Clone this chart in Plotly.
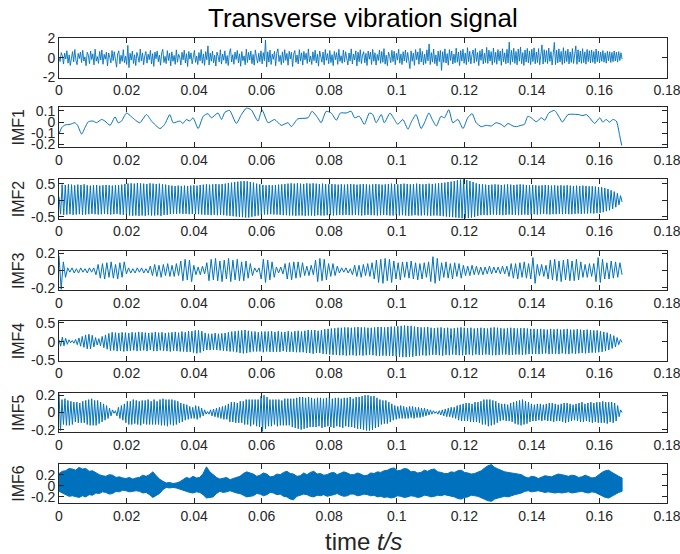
import numpy as np
import plotly.graph_objects as go

# ---------------- data ----------------
T_END = 0.1667  # last sample time (s)

x_tickvals = [0, 0.02, 0.04, 0.06, 0.08, 0.1, 0.12, 0.14, 0.16, 0.18]
x_ticktext = ["0", "0.02", "0.04", "0.06", "0.08", "0.1", "0.12", "0.14", "0.16", "0.18"]

panel_names = ["", "IMF1", "IMF2", "IMF3", "IMF4", "IMF5", "IMF6"]
y_ticks = [[-2, 0, 2], [-0.2, -0.1, 0, 0.1], [-0.5, 0, 0.5], [-0.2, 0, 0.2],
           [-0.5, 0, 0.5], [-0.2, 0, 0.2], [-0.2, 0, 0.2]]
y_ticktext = [["-2", "0", "2"], ["-0.2", "-0.1", "0", "0.1"], ["-0.5", "0", "0.5"],
              ["-0.2", "0", "0.2"], ["-0.5", "0", "0.5"], ["-0.2", "0", "0.2"],
              ["-0.2", "0", "0.2"]]
y_ranges = [[-2, 2], [-0.221, 0.132], [-0.55, 0.64], [-0.23, 0.23],
            [-0.5, 0.55], [-0.23, 0.23], [-0.31, 0.40]]

raw_signal = [
    0.05, -0.38, 0.52, 0.21, -0.64, 0.47, -0.12, 0.71, -0.55, 0.30, -0.78, 0.15, 0.62, -0.41, 0.83, -0.26, -0.70, 0.44, -0.08, 0.58,
    -0.49, 0.76, -0.33, 0.09, -0.81, 0.55, 0.27, -0.60, 0.69, -0.18, 0.40, -0.72, 0.86, -0.35, 0.12, -0.57, 0.64, -0.22, 0.79, -0.66,
    0.34, -0.15, 0.57, -0.83, 0.48, 0.03, -0.52, 0.73, -0.29, 0.61, -0.44, -0.95, 0.38, 0.70, -0.61, 0.25, -0.37, 0.82, -0.50, 0.16,
    -0.68, 1.25, -1.00, 0.45, -0.24, 0.67, -0.58, 0.31, -0.79, 0.54, 0.11, -0.46, 0.88, -0.32, 0.49, -0.71, 0.20, 0.63, -0.55, 0.36,
    -0.19, 0.74, -0.63, 0.42, -0.87, 0.58, -0.10, 0.69, -0.40, 0.27, -0.76, 0.51, 0.85, -0.48, 0.14, -0.59, 0.72, -0.28, 0.46, -0.82,
    0.60, -0.36, 0.23, -0.67, 0.80, -0.45, 0.35, 0.07, -0.73, 0.56, -0.21, 0.77, -0.53, 0.41, -0.88, 0.64, -0.14, 0.50, -0.62, 0.29,
    0.75, -0.47, 0.18, -0.69, 0.53, -0.31, 0.84, -0.56, 0.39, -0.77, 0.62, -0.20, 1.20, -0.74, 0.47, -0.35, 0.66, -0.51, 0.26, -0.84,
    0.57, 0.13, -0.42, 0.81, -0.64, 0.37, -0.25, 0.70, -0.58, 0.22, -0.79, 0.49, 0.92, -0.43, 0.31, -0.66, 0.58, -0.17, 0.74, -0.52,
    0.40, -0.86, 0.63, -0.30, 0.19, -0.71, 0.87, -0.48, 0.55, -0.23, 0.68, -0.60, 0.33, -0.75, 0.79, 0.06, -0.54, 0.45, -0.38, 0.71,
    -0.62, 0.52, -0.29, 1.80, -0.92, 0.60, -0.44, 0.77, -0.68, 0.36, -0.16, 0.65, -0.81, 0.48, 0.90, -0.39, 0.24, -0.70, 0.59, -0.50,
    0.82, -0.27, 0.43, -0.76, 0.66, -0.12, 0.55, -0.89, 0.38, 0.72, -0.47, 0.28, -0.63, 0.81, -0.34, 0.50, -0.74, 0.64, -0.21, 0.46,
    -0.58, 0.89, -0.41, 0.17, -0.68, 0.60, -0.30, 0.76, -0.53, 0.35, -0.85, 0.69, 0.10, -0.45, 0.57, -0.72, 0.83, -0.26, 0.42, -0.61,
    0.73, -0.49, 0.31, -0.80, 0.64, -0.19, 0.52, -0.67, 0.86, -0.37, 0.21, -0.56, 0.78, -0.44, 0.61, 0.05, -0.73, 0.48, -0.32, 0.90,
    -0.64, 0.39, -0.22, 0.70, -0.83, 0.56, -0.40, 0.81, -0.59, 0.27, 0.62, -0.51, 0.44, -0.78, 0.68, -0.15, 0.57, -0.69, 0.85, -0.36,
    0.50, -0.74, 0.33, -0.28, 0.79, -0.57, 0.63, -0.46, 0.92, -0.65, 0.26, -0.80, 0.58, 0.14, -0.50, 0.75, -0.39, 0.66, -0.71, 0.45,
    -0.24, 0.87, -0.55, 0.38, -0.69, 0.61, -0.33, 0.78, -0.48, 0.54, -0.62, -1.10, 0.70, -0.35, 0.47, -0.77, 0.83, -0.20, 0.59, -0.66,
    0.95, -0.42, 0.64, -0.73, 0.36, -0.58, 0.80, -0.31, 1.40, -0.69, 0.52, -0.44, 0.88, -0.60, 0.29, -0.82, 0.67, -0.38, 0.74, -1.28,
    0.61, -0.47, 0.90, -0.53, 0.42, -0.75, 0.83, -0.28, 0.69, -0.64, 0.37, -0.51, 0.97, -0.45, 0.58, -0.79, 0.72, -0.33, 0.86, -0.56,
    0.48, -0.70, 1.02, -0.40, 0.65, -0.62, 0.31, 0.79, -0.55, 0.94, -0.37, 0.53, -0.80, 0.71, -0.26, 0.88, -0.63, 0.45, -0.49, 1.05,
    -0.58, 0.77, -0.34, 0.62, -0.71, 0.99, -0.47, 0.56, -0.66, 0.83, -0.30, 0.68, -0.77, 0.91, -0.42, 0.50, -0.61, 0.85, -0.52, 1.58,
    -0.69, 0.74, -0.40, 0.96, -0.57, 0.63, -0.72, 0.88, -0.35, 1.08, -0.60, 0.52, -0.78, 0.79, -0.44, 0.95, -0.53, 0.67, -0.70, 0.86,
    -0.38, 1.00, -0.62, 0.58, -0.49, 0.93, -0.71, 0.66, 1.30, -0.64, 0.81, -0.45, 0.72, -0.59, 0.98, -0.36, 0.61, -0.74, 0.85, 1.55,
    -0.70, 0.76, -0.51, 0.90, -0.42, 0.64, -0.68, 1.02, -0.55, 0.70, -0.39, 0.87, -0.63, 0.59, -0.47, 0.93, -0.58, 0.74, 1.20, -0.66,
    0.81, -0.44, 0.68, -0.57, 0.92, -0.49, 0.60, -0.65, 0.84, -0.38, 0.71, -0.53, 0.79, -0.46, 0.63, -0.60, 0.88, -0.41, 0.67, -0.52,
    0.58, -0.36, 0.72, -0.45, 0.50, -0.55, 0.66, -0.30, 0.61, -0.48, 0.54, -0.40, 0.69, -0.33, 0.57, -0.44, 0.62, -0.28, 0.51, -0.15,
]

imf1_t = [
    0, 0.0008, 0.0018, 0.0033, 0.0047, 0.0055, 0.0067, 0.0077, 0.0087, 0.0101, 0.0111, 0.0126, 0.0136, 0.0151,
    0.0166, 0.0175, 0.0185, 0.0200, 0.0215, 0.0239, 0.0259, 0.0274, 0.0299, 0.0313, 0.0328, 0.0338, 0.0358,
    0.0367, 0.0377, 0.0387, 0.0397, 0.0412, 0.0427, 0.0441, 0.0451, 0.0471, 0.0481, 0.0491, 0.0505, 0.0525,
    0.0540, 0.0555, 0.0569, 0.0589, 0.0601, 0.0619, 0.0638, 0.0658, 0.0678, 0.0688, 0.0707, 0.0737, 0.0749,
    0.0766, 0.0776, 0.0791, 0.0806, 0.0821, 0.0833,
    0.0850, 0.0865, 0.0875, 0.0889, 0.0904, 0.0919, 0.0929, 0.0939, 0.0954, 0.0963, 0.0980, 0.0990, 0.1003,
    0.1018, 0.1033, 0.1042, 0.1057, 0.1072, 0.1082, 0.1095, 0.1105, 0.1117, 0.1131, 0.1141, 0.1154, 0.1166,
    0.1181, 0.1196, 0.1210, 0.1223, 0.1235, 0.1250, 0.1265, 0.1280, 0.1294, 0.1309, 0.1319, 0.1329, 0.1344,
    0.1354, 0.1368, 0.1378, 0.1388, 0.1398, 0.1413, 0.1428, 0.1438, 0.1450, 0.1467, 0.1482, 0.1490, 0.1507,
    0.1522, 0.1537, 0.1551, 0.1561, 0.1571, 0.1586, 0.1601, 0.1610, 0.1620, 0.1630, 0.1640, 0.1650, 0.1660, 0.1666,
]
imf1_v = [
    -0.107, -0.049, -0.026, -0.020, -0.006, -0.029, -0.107, -0.049, 0.003, 0.009, -0.006, 0.023, 0.009, -0.029,
    0.046, -0.006, 0.009, 0.081, 0.046, -0.006, 0.067, 0.009, -0.058, -0.020, 0.067, -0.006, 0.009,
    -0.012, 0.023, 0.009, 0.038, -0.058, 0.052, 0.075, 0.038, 0.081, 0.023, 0.087, 0.104, -0.012,
    0.067, 0.125, 0.110, 0.009, 0.110, -0.006, 0.023, -0.029, -0.006, -0.041, 0.029, 0.038, 0.096,
    0.038, -0.006, 0.096, 0.081, 0.017, 0.081,
    0.081, 0.096, 0.038, 0.052, -0.020, 0.081, 0.067, -0.006, 0.067, -0.006, 0.081, 0.038, -0.020,
    0.023, -0.064, -0.006, 0.067, -0.058, -0.006, 0.081, 0.023, -0.035, 0.052, 0.038, 0.110, -0.006,
    0.023, -0.058, 0.038, 0.075, -0.006, -0.041, -0.029, -0.035, -0.006, -0.020, -0.041, -0.012, -0.035,
    -0.041, -0.029, -0.020, 0.052, 0.038, 0.003, 0.038, 0.017, 0.081, 0.104, 0.038, 0.000, 0.067,
    0.070, 0.067, 0.058, 0.067, 0.038, -0.012, 0.038, 0.000, 0.023, 0.000, 0.023, 0.009, -0.122, -0.209,
]

imf2 = [
    0.10, -0.42, 0.47, -0.44, 0.46, -0.43, 0.48, -0.42, 0.47, -0.44, 0.45, -0.43, 0.47, -0.42, 0.46, -0.44, 0.48, -0.43, 0.45, -0.42,
    0.44, -0.41, 0.45, -0.42, 0.46, -0.43, 0.44, -0.42, 0.45, -0.41, 0.46, -0.42, 0.45, -0.43, 0.44, -0.42, 0.46, -0.41, 0.45, -0.43,
    0.47, -0.44, 0.49, -0.45, 0.50, -0.46, 0.51, -0.47, 0.50, -0.46, 0.52, -0.47, 0.51, -0.46, 0.50, -0.47, 0.49, -0.45, 0.51, -0.46,
    0.50, -0.46, 0.49, -0.45, 0.50, -0.47, 0.48, -0.44, 0.47, -0.44, 0.45, -0.42, 0.44, -0.41, 0.43, -0.41, 0.44, -0.40, 0.43, -0.41,
    0.44, -0.41, 0.43, -0.42, 0.44, -0.41, 0.45, -0.42, 0.44, -0.42, 0.46, -0.43, 0.47, -0.44, 0.48, -0.44, 0.47, -0.45, 0.48, -0.44,
    0.49, -0.45, 0.48, -0.44, 0.49, -0.45, 0.50, -0.46, 0.52, -0.47, 0.53, -0.48, 0.55, -0.49, 0.56, -0.50, 0.57, -0.51, 0.58, -0.52,
    0.57, -0.52, 0.55, -0.50, 0.53, -0.48, 0.50, -0.46, 0.48, -0.44, 0.46, -0.43, 0.45, -0.43, 0.46, -0.42, 0.45, -0.43, 0.46, -0.43,
    0.47, -0.44, 0.48, -0.45, 0.49, -0.45, 0.50, -0.46, 0.51, -0.46, 0.50, -0.47, 0.51, -0.46, 0.50, -0.46, 0.49, -0.47, 0.51, -0.46,
    0.50, -0.46, 0.51, -0.47, 0.50, -0.45, 0.49, -0.46, 0.50, -0.46, 0.49, -0.45, 0.48, -0.45, 0.49, -0.46, 0.48, -0.45, 0.47, -0.44,
    0.48, -0.45, 0.47, -0.44, 0.48, -0.45, 0.49, -0.45, 0.48, -0.44, 0.47, -0.45, 0.48, -0.46, 0.49, -0.45, 0.48, -0.44, 0.47, -0.45,
    0.48, -0.45, 0.49, -0.46, 0.48, -0.45, 0.47, -0.44, 0.48, -0.45, 0.49, -0.46, 0.50, -0.46, 0.49, -0.45, 0.48, -0.46, 0.49, -0.45,
    0.50, -0.46, 0.49, -0.47, 0.48, -0.46, 0.49, -0.45, 0.50, -0.46, 0.49, -0.46, 0.48, -0.45, 0.49, -0.46, 0.50, -0.47, 0.49, -0.46,
    0.50, -0.46, 0.51, -0.47, 0.52, -0.48, 0.53, -0.49, 0.55, -0.50, 0.56, -0.51, 0.58, -0.52, 0.60, -0.53, 0.62, -0.55, 0.63, -0.55,
    0.61, -0.54, 0.58, -0.52, 0.55, -0.50, 0.51, -0.47, 0.49, -0.45, 0.48, -0.44, 0.47, -0.45, 0.46, -0.44, 0.47, -0.43, 0.48, -0.44,
    0.47, -0.44, 0.46, -0.45, 0.47, -0.44, 0.48, -0.43, 0.47, -0.44, 0.46, -0.44, 0.47, -0.45, 0.48, -0.44, 0.47, -0.43, 0.46, -0.44,
    0.45, -0.43, 0.46, -0.42, 0.45, -0.43, 0.44, -0.42, 0.45, -0.41, 0.46, -0.42, 0.45, -0.43, 0.44, -0.42, 0.45, -0.42, 0.44, -0.41,
    0.45, -0.42, 0.44, -0.41, 0.45, -0.42, 0.44, -0.42, 0.43, -0.41, 0.44, -0.40, 0.43, -0.41, 0.44, -0.40, 0.43, -0.40, 0.42, -0.39,
    0.42, -0.40, 0.41, -0.39, 0.40, -0.38, 0.39, -0.36, 0.37, -0.33, 0.34, -0.30, 0.30, -0.26, 0.26, -0.21, 0.21, -0.14, 0.14, -0.05,
]

imf3 = [
    0.17, -0.22, 0.10, -0.08,
    0.03, -0.02, 0.03, -0.03, 0.02, -0.03, 0.03, -0.02, 0.02, -0.03, 0.03, -0.02, 0.03,
    -0.05, 0.07, -0.09, 0.08, -0.10, 0.09, -0.08, 0.10, -0.09, 0.07, -0.10, 0.09, -0.08, 0.10,
    -0.04, 0.03, -0.03, 0.02, -0.03, 0.03, -0.02, 0.03, -0.03, 0.02, -0.03,
    0.05, -0.06, 0.07, -0.07, 0.06, -0.08, 0.07, -0.06, 0.08, -0.07, 0.06, -0.07, 0.08, -0.06,
    0.11, -0.12, 0.13, -0.11, 0.12, -0.13,
    0.06, -0.05, 0.04, -0.05, 0.05, -0.04,
    0.09, -0.12, 0.13, -0.11, 0.14, -0.12, 0.11, -0.13, 0.12, -0.10, 0.14, -0.13, 0.12, -0.11, 0.13, -0.12, 0.10, -0.12, 0.11, -0.09, 0.08, -0.06,
    0.03, -0.02, 0.03,
    -0.10, 0.13, -0.14, 0.12, -0.11, 0.10, -0.08,
    0.04, -0.03, 0.04, -0.04,
    0.08, -0.10, 0.09, -0.11, 0.10, -0.09, 0.10, -0.08, 0.09,
    -0.06, 0.05, -0.06, 0.06, -0.05,
    0.12, -0.13, 0.14, -0.12, 0.13, -0.11,
    0.08, -0.07, 0.08, -0.06, 0.05,
    -0.03, 0.03, -0.02, 0.03, -0.03, 0.02,
    -0.05, 0.06, -0.07, 0.06, -0.08, 0.07, -0.06, 0.08, -0.07, 0.09, -0.10,
    0.12, -0.14, 0.13, -0.15, 0.14, -0.12, 0.13, -0.14, 0.11,
    -0.10, 0.09, -0.11, 0.10, -0.08, 0.10, -0.09, 0.11, -0.10, 0.09, -0.11, 0.08, -0.10, 0.09, -0.08, 0.10,
    -0.13, 0.16, -0.15, 0.14, -0.12,
    0.09, -0.08, 0.10, -0.09, 0.08, -0.10, 0.09, -0.07, 0.08, -0.09,
    0.06, -0.06, 0.05, -0.06, 0.06, -0.05, 0.05, -0.05, 0.04, -0.05, 0.04, -0.04, 0.05, -0.04, 0.04, -0.03, 0.04, -0.04, 0.05, -0.04, 0.05,
    -0.07, 0.08, -0.09, 0.08, -0.10, 0.09, -0.08, 0.10, -0.09, 0.08, -0.10,
    0.15, -0.15,
    0.07, -0.06, 0.07, -0.07, 0.06,
    -0.10, 0.12, -0.11, 0.13, -0.12, 0.11, -0.13, 0.12, -0.11, 0.13, -0.12, 0.11, -0.12, 0.13, -0.11, 0.10,
    -0.08, 0.07, -0.08, 0.08, -0.07, 0.08,
    -0.13, 0.15, -0.14, 0.13,
    -0.10, 0.09, -0.10, 0.11, -0.09, 0.10, -0.08, 0.09, -0.05,
]

imf4 = [
    0.05, -0.12, 0.12, -0.11,
    0.09, -0.07, 0.05, -0.03, 0.03, -0.04,
    0.06, -0.08, 0.10, -0.12, 0.14, -0.15,
    0.18, -0.19, 0.20, -0.19, 0.17,
    -0.14, 0.11, -0.09, 0.08,
    -0.11, 0.14, -0.16, 0.18, -0.20,
    0.22, -0.24, 0.25, -0.23, 0.24, -0.25, 0.23, -0.24, 0.25, -0.26, 0.24, -0.25, 0.23, -0.24, 0.25, -0.23, 0.24, -0.25, 0.26, -0.24,
    0.25, -0.23, 0.24, -0.25, 0.23, -0.22, 0.24, -0.25, 0.26, -0.25, 0.24, -0.23, 0.25, -0.24, 0.23, -0.25, 0.24, -0.26, 0.25, -0.24,
    0.26, -0.25, 0.24, -0.26, 0.27, -0.26, 0.25, -0.27, 0.28, -0.27, 0.28,
    -0.29, 0.30, -0.31, 0.30, -0.29, 0.28,
    -0.25, 0.23, -0.22, 0.21, -0.22, 0.21, -0.22, 0.23, -0.22, 0.21, -0.23, 0.22, -0.24, 0.23, -0.25,
    0.25, -0.26, 0.27, -0.26, 0.28, -0.28, 0.29, -0.30, 0.30, -0.31, 0.31, -0.30, 0.29, -0.28, 0.27, -0.26, 0.27, -0.26, 0.25, -0.26,
    0.27, -0.28, 0.27, -0.26, 0.27, -0.27, 0.28, -0.27, 0.26, -0.27, 0.28, -0.27, 0.26, -0.25, 0.26, -0.27, 0.28, -0.27, 0.26, -0.27,
    0.28, -0.28, 0.29, -0.28, 0.27, -0.28, 0.29, -0.30, 0.31, -0.30, 0.31, -0.32, 0.31, -0.30, 0.29, -0.30, 0.31, -0.32, 0.33, -0.33, 0.34,
    -0.34, 0.35, -0.35, 0.36, -0.35, 0.37, -0.36, 0.37, -0.36, 0.38, -0.37, 0.38, -0.36, 0.37, -0.36, 0.38, -0.37, 0.39, -0.36, 0.38,
    -0.37, 0.38, -0.36, 0.37, -0.35, 0.37, -0.36, 0.38, -0.37, 0.39, -0.38, 0.39, -0.37, 0.38, -0.37, 0.39, -0.38, 0.40, -0.38, 0.40, -0.39,
    0.41, -0.40, 0.42, -0.41, 0.43, -0.41, 0.42, -0.40, 0.42, -0.40,
    0.40, -0.38, 0.39, -0.37, 0.38, -0.36, 0.38, -0.37, 0.39, -0.36, 0.37, -0.35, 0.36, -0.35, 0.37, -0.36, 0.38, -0.37, 0.36, -0.35,
    0.37, -0.36, 0.35, -0.34, 0.36, -0.35, 0.37, -0.36, 0.38, -0.36,
    0.37, -0.35, 0.36, -0.34, 0.37, -0.36, 0.35, -0.34, 0.36, -0.35, 0.37, -0.35, 0.36, -0.34, 0.35, -0.35, 0.37, -0.36, 0.38, -0.36,
    0.37, -0.35, 0.36, -0.34, 0.35, -0.34, 0.36, -0.35, 0.37, -0.35, 0.36, -0.34, 0.35, -0.34, 0.36, -0.35, 0.36, -0.34, 0.35, -0.33, 0.34,
    -0.33, 0.34, -0.32, 0.33, -0.33, 0.34, -0.32, 0.33, -0.31, 0.32, -0.33, 0.34, -0.32, 0.33, -0.32, 0.34, -0.33, 0.32, -0.31, 0.33,
    -0.32, 0.34, -0.33, 0.32, -0.31, 0.32, -0.32, 0.33, -0.31, 0.32, -0.30, 0.31, -0.31, 0.32, -0.30, 0.31, -0.29, 0.30, -0.29, 0.30, -0.28,
    0.28, -0.27, 0.26, -0.25, 0.24, -0.22, 0.20, -0.18, 0.16, -0.14, 0.11, -0.08, 0.06, -0.02,
]

imf5 = [
    0.22, -0.21,
    0.15, -0.14, 0.16, -0.15, 0.14, -0.15, 0.13, -0.14,
    0.12, -0.11, 0.12, -0.12, 0.11, -0.12, 0.13, -0.12, 0.14,
    -0.14, 0.15, -0.15, 0.16, -0.15, 0.14, -0.15, 0.14, -0.13,
    0.12, -0.11, 0.10, -0.09, 0.08, -0.07, 0.05, -0.04, 0.03, -0.01,
    0.02, -0.04, 0.06, -0.07, 0.08, -0.09, 0.10,
    -0.12, 0.13, -0.14, 0.13, -0.14, 0.15, -0.13, 0.14, -0.14, 0.13, -0.15, 0.14, -0.13, 0.14, -0.14, 0.15, -0.14, 0.13, -0.14, 0.15, -0.14, 0.13, -0.14,
    0.15, -0.15, 0.16, -0.15, 0.15, -0.16, 0.15, -0.14, 0.15, -0.15, 0.14, -0.14,
    0.13, -0.12, 0.11, -0.11, 0.10, -0.09, 0.09, -0.08, 0.07, -0.07, 0.06,
    -0.07, 0.08, -0.08, 0.07, -0.06,
    0.05, -0.04, 0.03, -0.02, 0.01,
    -0.02, 0.03, -0.04, 0.04, -0.05, 0.05, -0.06, 0.06, -0.07, 0.07, -0.08, 0.08, -0.08,
    0.10, -0.11, 0.12, -0.11, 0.12, -0.12, 0.11, -0.12, 0.13, -0.12, 0.13,
    -0.14, 0.15, -0.14, 0.15, -0.16, 0.15, -0.14, 0.15, -0.16, 0.15, -0.17,
    0.19, -0.22, 0.20, -0.19, 0.18,
    -0.16, 0.15, -0.16, 0.15, -0.14, 0.15, -0.16, 0.15, -0.15, 0.14, -0.15, 0.16, -0.15, 0.16, -0.15, 0.16, -0.17, 0.16,
    -0.18, 0.17, -0.19, 0.18, -0.20, 0.18, -0.19, 0.17, -0.18, 0.18, -0.17, 0.17,
    -0.17, 0.16, -0.17, 0.17, -0.16, 0.17, -0.18, 0.16, -0.17, 0.17, -0.16, 0.18, -0.17, 0.16, -0.18, 0.17, -0.16,
    0.17, -0.17, 0.16, -0.18, 0.17, -0.16, 0.17, -0.17, 0.18, -0.17, 0.16, -0.18, 0.18, -0.19, 0.18, -0.19, 0.19,
    -0.20, 0.20, -0.21, 0.20, -0.21, 0.19, -0.20, 0.19, -0.18, 0.17, -0.17,
    0.15, -0.14, 0.14, -0.13, 0.14, -0.13, 0.12, -0.11, 0.10, -0.09, 0.08,
    -0.08, 0.07, -0.07, 0.08, -0.07, 0.07, -0.07, 0.06, -0.07, 0.07, -0.06, 0.07, -0.07, 0.06, -0.06, 0.06, -0.06, 0.05, -0.05,
    0.05, -0.04, 0.04, -0.03, 0.03, -0.02, 0.02, -0.01, 0.01,
    -0.02, 0.02, -0.03, 0.03, -0.04, 0.04, -0.05, 0.05, -0.05, 0.06, -0.06, 0.06, -0.07,
    0.08, -0.09, 0.09, -0.10, 0.10, -0.10, 0.11, -0.10, 0.11, -0.11, 0.10, -0.11, 0.12, -0.11, 0.12, -0.12,
    0.13, -0.14, 0.15, -0.14, 0.15, -0.16, 0.15, -0.15, 0.14, -0.14, 0.13, -0.12,
    0.11, -0.10, 0.10, -0.09, 0.10, -0.10, 0.09, -0.10, 0.11, -0.11, 0.12,
    -0.13, 0.13, -0.14, 0.14, -0.15, 0.15, -0.14, 0.13, -0.13, 0.12, -0.11,
    0.10, -0.10, 0.09, -0.10, 0.10, -0.09, 0.10, -0.10, 0.09, -0.09, 0.10, -0.10, 0.11, -0.10, 0.11, -0.11, 0.10, -0.10, 0.09, -0.10,
    0.10, -0.11, 0.11, -0.12, 0.11, -0.11, 0.10, -0.10, 0.09, -0.09, 0.10, -0.10, 0.11, -0.11, 0.12, -0.11, 0.10, -0.10, 0.11, -0.11,
    0.12, -0.12, 0.11, -0.11, 0.12, -0.12,
    0.12, -0.12, 0.13, -0.12, 0.12, -0.13, 0.12, -0.11, 0.12, -0.12, 0.11, -0.10, 0.08, -0.05, 0.03, 0.00,
]

# IMF6 is drawn as a filled band: upper / lower envelope read about every 1 ms
imf6_upper = [
    0.22, 0.26, 0.27, 0.31, 0.30, 0.28, 0.33, 0.30, 0.31, 0.26,
    0.27, 0.23, 0.20, 0.18, 0.17, 0.20, 0.19, 0.15, 0.16, 0.14,
    0.13, 0.15, 0.12, 0.14, 0.15, 0.19, 0.17, 0.20, 0.25, 0.18,
    0.12, 0.08, 0.05, 0.06, 0.04, 0.05, 0.07, 0.11, 0.15, 0.13,
    0.17, 0.14, 0.15, 0.22, 0.34, 0.25, 0.20, 0.15, 0.12, 0.14,
    0.15, 0.11, 0.13, 0.16, 0.17, 0.22, 0.25, 0.23, 0.21, 0.17,
    0.19, 0.23, 0.21, 0.16, 0.17, 0.21, 0.20, 0.24, 0.26, 0.22,
    0.21, 0.17, 0.18, 0.23, 0.20, 0.24, 0.26, 0.21, 0.22, 0.19,
    0.20, 0.23, 0.24, 0.20, 0.22, 0.25, 0.23, 0.20, 0.20, 0.23,
    0.21, 0.18, 0.19, 0.23, 0.22, 0.25, 0.24, 0.27, 0.28, 0.31,
    0.32, 0.27, 0.28, 0.31, 0.30, 0.25, 0.26, 0.23, 0.24, 0.28,
    0.26, 0.29, 0.30, 0.25, 0.24, 0.22, 0.22, 0.25, 0.24, 0.27,
    0.28, 0.24, 0.23, 0.21, 0.22, 0.25, 0.27, 0.32, 0.36, 0.38,
    0.33, 0.30, 0.27, 0.25, 0.24, 0.23, 0.22, 0.21, 0.20, 0.16,
    0.14, 0.17, 0.16, 0.13, 0.15, 0.18, 0.17, 0.16, 0.19, 0.21,
    0.20, 0.18, 0.17, 0.19, 0.18, 0.15, 0.16, 0.19, 0.17, 0.14,
    0.15, 0.20, 0.24, 0.27, 0.28, 0.24, 0.20, 0.17, 0.14,
]
imf6_lower = [
    -0.10, -0.14, -0.16, -0.19, -0.18, -0.20, -0.21, -0.18, -0.20, -0.16,
    -0.17, -0.13, -0.14, -0.11, -0.12, -0.15, -0.14, -0.10, -0.11, -0.08,
    -0.09, -0.11, -0.10, -0.09, -0.10, -0.13, -0.12, -0.16, -0.21, -0.18,
    -0.14, -0.07, -0.03, -0.04, -0.03, -0.04, -0.05, -0.08, -0.10, -0.12,
    -0.13, -0.11, -0.12, -0.16, -0.22, -0.21, -0.20, -0.14, -0.10, -0.12,
    -0.11, -0.09, -0.11, -0.13, -0.14, -0.17, -0.20, -0.19, -0.18, -0.14,
    -0.15, -0.18, -0.16, -0.12, -0.13, -0.16, -0.15, -0.19, -0.20, -0.24,
    -0.25, -0.19, -0.17, -0.15, -0.16, -0.19, -0.20, -0.17, -0.18, -0.16,
    -0.19, -0.17, -0.16, -0.14, -0.17, -0.19, -0.18, -0.15, -0.15, -0.18,
    -0.17, -0.15, -0.16, -0.18, -0.17, -0.20, -0.19, -0.21, -0.20, -0.22,
    -0.21, -0.18, -0.19, -0.21, -0.20, -0.18, -0.19, -0.21, -0.20, -0.17,
    -0.18, -0.20, -0.19, -0.17, -0.18, -0.16, -0.17, -0.19, -0.20, -0.23,
    -0.24, -0.21, -0.20, -0.17, -0.18, -0.19, -0.21, -0.24, -0.27, -0.28,
    -0.24, -0.22, -0.20, -0.19, -0.20, -0.18, -0.16, -0.14, -0.13, -0.10,
    -0.09, -0.11, -0.10, -0.09, -0.11, -0.12, -0.11, -0.12, -0.13, -0.12,
    -0.13, -0.12, -0.11, -0.13, -0.12, -0.11, -0.10, -0.12, -0.13, -0.11,
    -0.12, -0.15, -0.18, -0.21, -0.22, -0.19, -0.15, -0.12, -0.10,
]

# ---------------- figure ----------------
BLUE = "#0072BD"
AX = "#262626"
FONT = "Liberation Sans, Arial, Helvetica, sans-serif"
W, H = 680, 554
ML, MR, MT, MB = 59, 13, 38, 51
plot_h = H - MT - MB
panel_tops = [38, 107.3, 179, 250.7, 321, 392.7, 463.5]
panel_h = 39.5

fig = go.Figure()

series = [raw_signal, None, imf2, imf3, imf4, imf5, None]
widths = [0.9, 1.0, 1.0, 1.0, 1.0, 1.0, 1.0]
for k in range(7):
    ax = "" if k == 0 else str(k + 1)
    xa, ya = "x" + ax, "y" + ax
    if k == 1:
        fig.add_trace(go.Scatter(x=imf1_t, y=imf1_v, mode="lines",
                                 line=dict(color=BLUE, width=1, shape="spline", smoothing=0.6),
                                 xaxis=xa, yaxis=ya, showlegend=False))
    elif k == 6:
        te = np.linspace(0, T_END, len(imf6_upper))
        xs = np.concatenate([te, te[::-1]])
        ys = np.concatenate([np.array(imf6_upper), np.array(imf6_lower)[::-1]])
        fig.add_trace(go.Scatter(x=xs, y=ys, mode="lines", fill="toself",
                                 fillcolor=BLUE, line=dict(color=BLUE, width=1),
                                 xaxis=xa, yaxis=ya, showlegend=False))
    else:
        vals = series[k]
        t = np.linspace(0, T_END, len(vals))
        fig.add_trace(go.Scatter(x=t, y=vals, mode="lines",
                                 line=dict(color=BLUE, width=widths[k]),
                                 xaxis=xa, yaxis=ya, showlegend=False))

layout = dict(
    width=W, height=H,
    margin=dict(l=ML, r=MR, t=MT, b=MB, pad=0, autoexpand=False),
    paper_bgcolor="white", plot_bgcolor="white",
    font=dict(family=FONT, size=14, color=AX),
    showlegend=False,
)
annotations = []
for k in range(7):
    top = panel_tops[k]
    d0 = max(0.0, (H - MB - top - panel_h) / plot_h)
    d1 = min(1.0, (H - MB - top) / plot_h)
    ax = "" if k == 0 else str(k + 1)
    common = dict(showline=True, linecolor=AX, linewidth=1, mirror="ticks",
                  ticks="inside", ticklen=5, tickwidth=1, tickcolor=AX,
                  showgrid=False, zeroline=False, ticklabeloverflow="allow",
                  automargin=False,
                  tickfont=dict(family=FONT, size=14, color=AX))
    layout["xaxis" + ax] = dict(common, domain=[0, 1], range=[0, 0.18],
                                tickvals=x_tickvals, ticktext=x_ticktext,
                                anchor="y" + ax, fixedrange=True)
    layout["yaxis" + ax] = dict(common, domain=[d0, d1], range=y_ranges[k],
                                tickvals=y_ticks[k], ticktext=y_ticktext[k],
                                anchor="x" + ax, fixedrange=True)
    if panel_names[k]:
        annotations.append(dict(text=panel_names[k], xref="paper", yref="paper",
                                x=(18.5 - ML) / (W - ML - MR), y=(d0 + d1) / 2,
                                textangle=-90, showarrow=False,
                                xanchor="center", yanchor="middle",
                                font=dict(family=FONT, size=16, color=AX)))

annotations.append(dict(text="Transverse vibration signal", xref="paper", yref="paper",
                        x=0.5, y=(H - MB - 18.5) / plot_h, showarrow=False,
                        xanchor="center", yanchor="middle",
                        font=dict(family=FONT, size=26, color="#000000")))
annotations.append(dict(text="time <i>t/s</i>", xref="paper", yref="paper",
                        x=0.5, y=(H - MB - 541) / plot_h, showarrow=False,
                        xanchor="center", yanchor="middle",
                        font=dict(family=FONT, size=24, color=AX)))
layout["annotations"] = annotations
fig.update_layout(**layout)

fig.write_html("out.html")
